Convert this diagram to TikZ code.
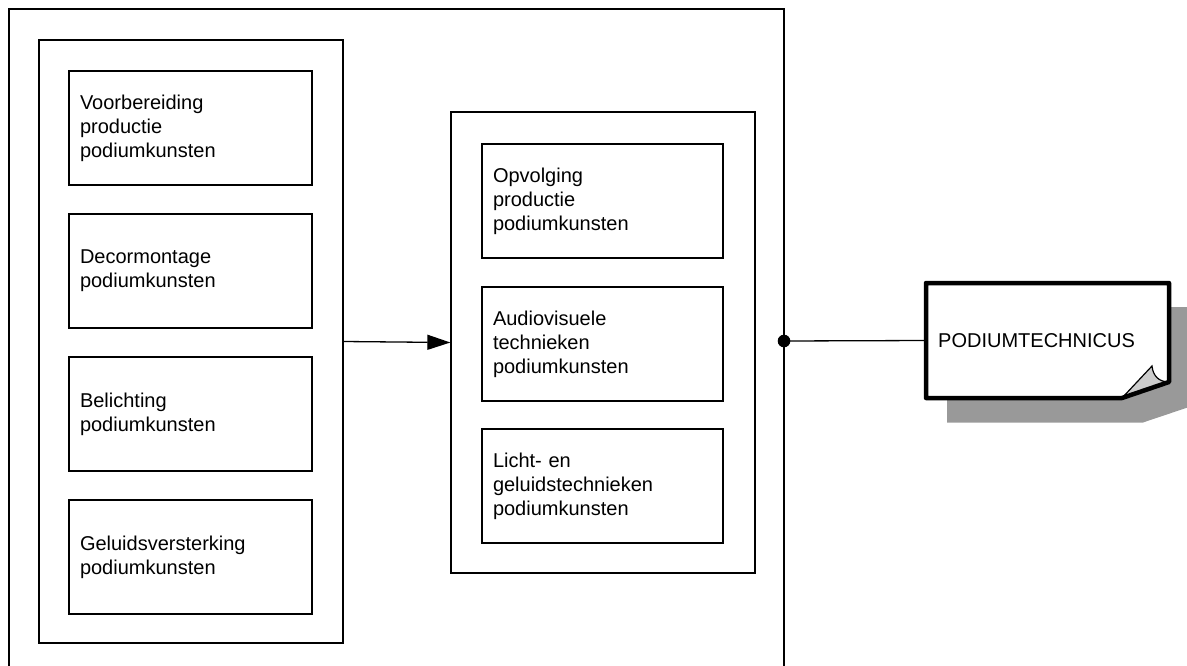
\documentclass[tikz,border=0pt]{standalone}
\usepackage{fontspec}
\setmainfont{Liberation Sans}
\usetikzlibrary{arrows.meta}
\begin{document}
\begin{tikzpicture}[x=1pt,y=-1pt,
  grp/.style={draw,line width=1.3pt,rectangle,minimum width=304pt,inner sep=0pt},
  item/.style={draw,line width=1.3pt,rectangle,minimum height=114pt,inner xsep=11pt,inner ysep=0pt,align=left,font=\fontsize{20}{24}\selectfont},
  litem/.style={item,minimum width=243pt,text width=221pt},
  mitem/.style={item,minimum width=241pt,text width=219pt},
  conn/.style={line width=1.3pt}]
\useasboundingbox (0,0) rectangle (1187,665);
% outer frame (open at bottom)
\draw[conn] (9,668) -- (9,9) -- (784,9) -- (784,668);
\coordinate (dot) at (784,341);
% groups
\node[grp,minimum height=603pt] (lg) at (191,341.5) {};
\node[grp,minimum height=461pt] (mg) at (603,342.5) {};
% left items
\node[litem] (a1) at (190.5,128) {Voorbereiding\\productie\\podiumkunsten};
\node[litem] (a2) at (190.5,271) {Decormontage\\podiumkunsten};
\node[litem] (a3) at (190.5,414) {Belichting\\podiumkunsten};
\node[litem] (a4) at (190.5,557) {Geluidsversterking\\podiumkunsten};
% middle items
\node[mitem] (b1) at (602.5,201) {Opvolging\\productie\\podiumkunsten};
\node[mitem] (b2) at (602.5,344) {Audiovisuele\\technieken\\podiumkunsten};
\node[mitem] (b3) at (602.5,486) {Licht- en\\geluidstechnieken\\podiumkunsten};
% arrow
\draw[conn,-{Triangle[length=23pt,width=15pt]}] (lg.east) -- (mg.west);
% note shadow
\fill[black!40] (947,307) -- (1192,307) -- (1192,406) -- (1143,422.5) -- (947,422.5) -- cycle;
% note
\node[minimum width=243pt,minimum height=115pt,inner sep=0pt] (note) at (1047.5,340.5) {};
\fill[white] (926,283) -- (1169,283) -- (1169,382) -- (1122,398) -- (926,398) -- cycle;
\fill[black!20] (1122,398) -- (1152,366) .. controls (1153,376) and (1159,382) .. (1169,382) -- cycle;
\draw[line width=1.2pt] (1122,398) -- (1152,366) .. controls (1153,376) and (1159,382) .. (1169,382);
\draw[line width=4.5pt,line join=round] (926,283) -- (1169,283) -- (1169,382) -- (1122,398) -- (926,398) -- cycle;
\node[anchor=west,inner sep=0pt,font=\fontsize{20}{24}\selectfont] (notetext) at (938,341) {PODIUMTECHNICUS};
% connector
\draw[conn] (dot) -- (note.west);
\fill (dot) circle (6.3pt);
\end{tikzpicture}
\end{document}
